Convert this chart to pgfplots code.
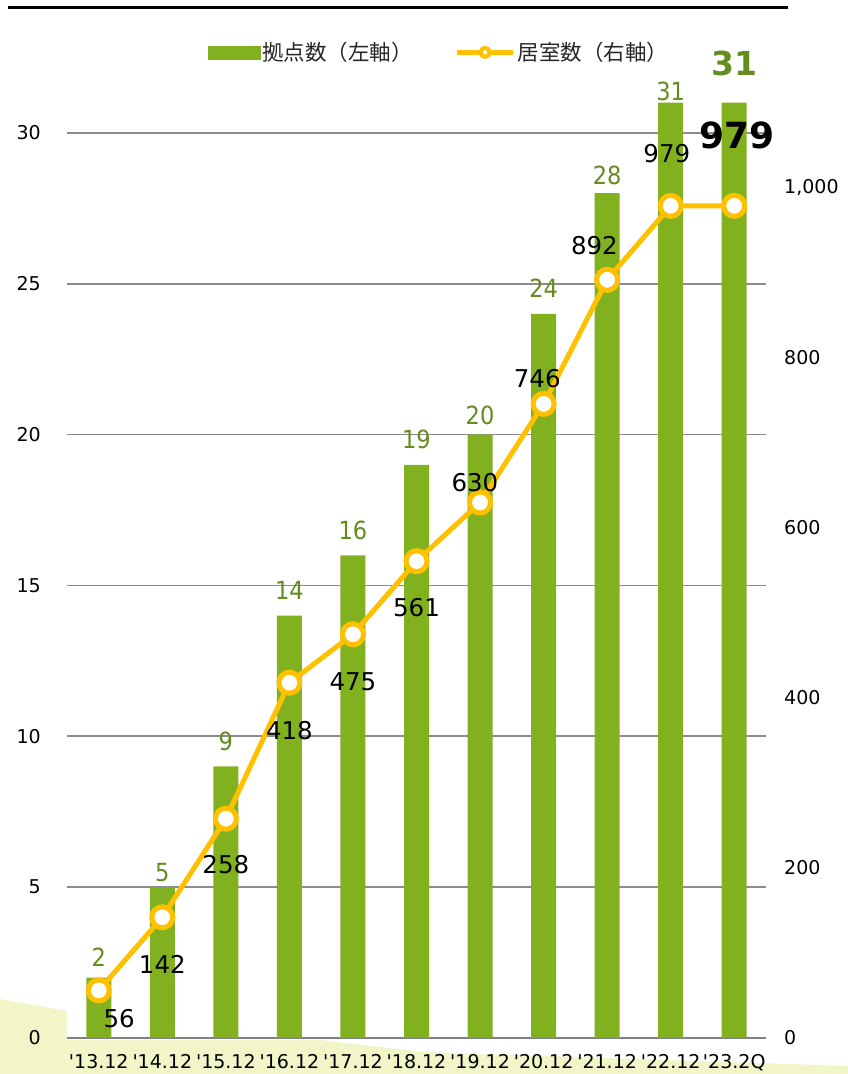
\documentclass[border=0pt]{standalone}
\usepackage{pgfplots}
\pgfplotsset{compat=1.18}
\usepackage{fontspec}
\setmainfont{DejaVu Sans}
\newfontfamily\dv{DejaVu Sans}
\newfontfamily\jp{Noto Sans CJK JP}
\newfontfamily\cond{DejaVu Sans Condensed}
\definecolor{bargreen}{RGB}{130,177,32}
\definecolor{labgreen}{RGB}{100,140,30}
\definecolor{gold}{RGB}{255,192,0}
\definecolor{pale}{RGB}{241,245,200}
\definecolor{gridgray}{RGB}{140,140,140}
\definecolor{basegray}{RGB}{128,128,128}
\pgfplotstableread{
x y
0 2
1 5
2 9
3 14
4 16
5 19
6 20
7 24
8 28
9 31
10 31
}\bars
\pgfplotstableread{
x y
0 56
1 142
2 258
3 418
4 475
5 561
6 630
7 746
8 892
9 979
10 979
}\rooms
\pgfplotstableread{
x y lab
0 2.68 2
1 5.50 5
2 9.84 9
3 14.85 14
4 16.81 16
5 19.85 19
6 20.62 20
7 24.86 24
8 28.6 28
9 31.36 31
}\barlabs
\pgfplotstableread{
x y lab
0.32 22.4 56
1 87 142
2 203.5 258
3 362 418
4 419 475
5 506 561
5.92 654 630
6.9 776 746
7.8 932 892
8.94 1041 979
}\roomlabs
\begin{document}
\begin{tikzpicture}
\path[use as bounding box] (0pt,0pt) rectangle (848pt,1074pt);
\fill[pale] (0pt,75pt) -- (67pt,63pt) -- (424pt,22pt) -- (848pt,8pt) -- (848pt,0pt) -- (0pt,0pt) -- cycle;
\fill[white] (67pt,34pt) rectangle (766pt,200pt);
\draw[line width=3pt, black] (8pt,1066pt) -- (788pt,1066pt);
\begin{axis}[
  at={(67pt,36pt)}, anchor=south west, scale only axis,
  width=699pt, height=995.6pt,
  xmin=-0.5, xmax=10.5, ymin=0, ymax=33,
  axis line style={draw=none},
  major tick length=0pt,
  xtick={0,...,10},
  xticklabels={'13.12,'14.12,'15.12,'16.12,'17.12,'18.12,'19.12,'20.12,'21.12,'22.12,'23.2Q},
  ytick={5,10,...,30},
  extra y ticks={0},
  extra y tick style={major grid style={basegray, line width=2.5pt}},
  ymajorgrids,
  major grid style={gridgray, line width=1.6pt},
  tick label style={font=\dv\fontsize{19}{19}\selectfont, text=black},
  yticklabel style={xshift=-22.7pt},
  xticklabel style={yshift=-12.7pt},
  /pgf/number format/assume math mode=true,
  clip=false,
]
\addplot[ybar, bar width=25pt, bar shift=0pt, fill=bargreen, draw=none] table[x=x,y=y] {\bars};
\addplot[draw=none, mark=none, nodes near coords, point meta=explicit symbolic,
  nodes near coords style={anchor=center, font=\cond\fontsize{25}{25}\selectfont, text=labgreen}]
  table[x=x,y=y,meta=lab] {\barlabs};
\addplot[draw=none, mark=none, nodes near coords, point meta=explicit symbolic,
  nodes near coords style={anchor=center, font=\dv\bfseries\fontsize{33}{33}\selectfont, text=labgreen}]
  table[x=x,y=y,meta=lab] {
x y lab
10 32.3 31
};
\end{axis}
\begin{axis}[
  at={(67pt,36pt)}, anchor=south west, scale only axis,
  width=699pt, height=995.6pt,
  xmin=-0.5, xmax=10.5, ymin=0, ymax=1171.3,
  axis x line=none, axis y line*=right,
  y axis line style={draw=none},
  major tick length=0pt,
  ytick={0,200,...,1000},
  tick label style={font=\dv\fontsize{19}{19}\selectfont, text=black},
  yticklabel style={xshift=14.7pt},
  /pgf/number format/assume math mode=true,
  /pgf/number format/1000 sep={,},
  clip=false,
  legend columns=2,
  legend style={draw=none, fill=none, at={(axis description cs:0.532,0.990)}, anchor=center,
    font=\jp\fontsize{21.5}{21.5}\selectfont, inner sep=0pt, text=black!85,
    /tikz/every even column/.append style={column sep=40pt}},
]
\addlegendimage{legend image code/.code={\fill[bargreen] (0pt,-6.5pt) rectangle (52pt,6.5pt);}}
\addlegendentry{拠点数（左軸）}
\addplot[gold, line width=5pt, mark=*, mark size=10.5pt, mark options={fill=white, draw=gold, line width=5pt},
  legend image code/.code={\draw[gold, line width=5pt] (0pt,0pt) -- (56pt,0pt); \draw[gold, line width=4pt, fill=white] (28pt,0pt) circle (4.5pt);}]
  table[x=x,y=y] {\rooms};
\addlegendentry{居室数（右軸）}
\addplot[draw=none, mark=none, nodes near coords, point meta=explicit symbolic,
  nodes near coords style={anchor=center, font=\dv\fontsize{24.5}{24.5}\selectfont, text=black}]
  table[x=x,y=y,meta=lab] {\roomlabs};
\addplot[draw=none, mark=none, nodes near coords, point meta=explicit symbolic,
  nodes near coords style={anchor=center, font=\dv\bfseries\fontsize{36}{36}\selectfont, text=black}]
  table[x=x,y=y,meta=lab] {
x y lab
10.05 1062 979
};
\end{axis}
\end{tikzpicture}
\end{document}
